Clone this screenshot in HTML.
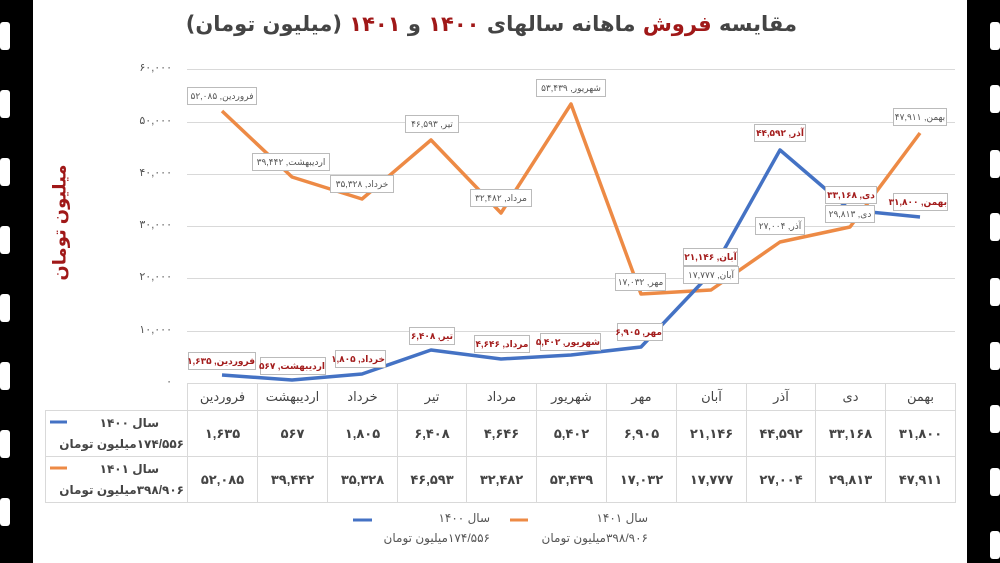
<!DOCTYPE html>
<html><head><meta charset="utf-8"><style>
*{margin:0;padding:0;box-sizing:border-box}
body{width:1000px;height:563px;position:relative;background:#fff;overflow:hidden;font-family:"Liberation Sans","DejaVu Sans",sans-serif}
.strip{position:absolute;top:0;width:33px;height:563px;background:#000}
.hole{position:absolute;width:10px;height:28px;background:#fff;border-radius:3px}
.t{position:absolute;white-space:nowrap}
.cb{position:absolute;background:#fff;border:1px solid #bbb;font-size:9px;color:#555;direction:rtl;text-align:center;line-height:16px;white-space:nowrap}
.cb.r{color:#a31c1c;font-weight:bold}
.yl{position:absolute;left:108px;width:64px;text-align:right;font-size:11px;color:#555}
table{position:absolute;left:45px;top:383px;border-collapse:collapse;direction:ltr}
td{border:1px solid #d9d9d9;text-align:center;font-size:13px;color:#444;font-weight:bold;padding:0}
</style></head><body>
<div class="strip" style="left:0"></div>
<div class="strip" style="left:967px"></div>
<div class="hole" style="left:0;top:22px"></div><div class="hole" style="left:0;top:90px"></div><div class="hole" style="left:0;top:158px"></div><div class="hole" style="left:0;top:226px"></div><div class="hole" style="left:0;top:294px"></div><div class="hole" style="left:0;top:362px"></div><div class="hole" style="left:0;top:430px"></div><div class="hole" style="left:0;top:498px"></div>
<div class="hole" style="left:990px;top:22px"></div><div class="hole" style="left:990px;top:85px"></div><div class="hole" style="left:990px;top:150px"></div><div class="hole" style="left:990px;top:213px"></div><div class="hole" style="left:990px;top:278px"></div><div class="hole" style="left:990px;top:342px"></div><div class="hole" style="left:990px;top:405px"></div><div class="hole" style="left:990px;top:468px"></div><div class="hole" style="left:990px;top:531px"></div>

<div class="t" style="left:197px;top:12px;width:600px;text-align:center;font-size:21px;font-weight:bold;color:#444;direction:rtl;font-family:'DejaVu Sans','Noto Sans CJK SC',sans-serif">مقایسه <span style="color:#a01818">فروش</span> ماهانه سالهای <span style="color:#a01818">۱۴۰۰</span> و <span style="color:#a01818">۱۴۰۱</span> (میلیون تومان)</div>

<div class="t" style="left:-10px;top:212px;width:140px;text-align:center;transform:rotate(-90deg);font-size:18px;font-weight:bold;color:#a01818;direction:rtl">میلیون تومان</div>

<div class="yl" style="top:61px">۶۰,۰۰۰</div>
<div class="yl" style="top:114px">۵۰,۰۰۰</div>
<div class="yl" style="top:166px">۴۰,۰۰۰</div>
<div class="yl" style="top:218px">۳۰,۰۰۰</div>
<div class="yl" style="top:270px">۲۰,۰۰۰</div>
<div class="yl" style="top:323px">۱۰,۰۰۰</div>
<div class="yl" style="top:375px">۰</div>

<svg style="position:absolute;left:0;top:0" width="1000" height="563">
<g stroke="#d9d9d9" stroke-width="1">
<line x1="187" x2="955" y1="69.5" y2="69.5"/><line x1="187" x2="955" y1="122.5" y2="122.5"/><line x1="187" x2="955" y1="174.5" y2="174.5"/><line x1="187" x2="955" y1="226.5" y2="226.5"/><line x1="187" x2="955" y1="278.5" y2="278.5"/><line x1="187" x2="955" y1="331.5" y2="331.5"/>
</g>
<polyline fill="none" stroke="#ed8a45" stroke-width="3.5" stroke-linejoin="round" points="222,111 292,177 362,199 431,140 501,213 571,104 641,294 711,290 780,242 850,227 920,133"/>
<polyline fill="none" stroke="#4472c4" stroke-width="3.5" stroke-linejoin="round" points="222,375 292,380 362,374 431,350 501,359 571,355 641,347 711,273 780,150 850,210 920,217"/>
<line x1="510" x2="528" y1="520" y2="520" stroke="#ed8a45" stroke-width="3"/>
<line x1="353" x2="372" y1="520" y2="520" stroke="#4472c4" stroke-width="3"/>
<line x1="50" x2="67" y1="422" y2="422" stroke="#4472c4" stroke-width="3"/>
<line x1="50" x2="67" y1="468" y2="468" stroke="#ed8a45" stroke-width="3"/>
</svg>

<div class="cb" style="left:187px;top:87px;width:70px">فروردین, ۵۲,۰۸۵</div>
<div class="cb" style="left:252px;top:153px;width:78px">اردیبهشت, ۳۹,۴۴۲</div>
<div class="cb" style="left:330px;top:175px;width:64px">خرداد, ۳۵,۳۲۸</div>
<div class="cb" style="left:405px;top:115px;width:54px">تیر, ۴۶,۵۹۳</div>
<div class="cb" style="left:470px;top:189px;width:62px">مرداد, ۳۲,۴۸۲</div>
<div class="cb" style="left:536px;top:79px;width:70px">شهریور, ۵۳,۴۳۹</div>
<div class="cb" style="left:615px;top:273px;width:51px">مهر, ۱۷,۰۳۲</div>
<div class="cb" style="left:683px;top:266px;width:56px">آبان, ۱۷,۷۷۷</div>
<div class="cb" style="left:755px;top:217px;width:50px">آذر, ۲۷,۰۰۴</div>
<div class="cb" style="left:825px;top:205px;width:50px">دی, ۲۹,۸۱۳</div>
<div class="cb" style="left:893px;top:108px;width:54px">بهمن, ۴۷,۹۱۱</div>

<div class="cb r" style="left:188px;top:352px;width:68px">فروردین, ۱,۶۳۵</div>
<div class="cb r" style="left:260px;top:357px;width:66px">اردیبهشت, ۵۶۷</div>
<div class="cb r" style="left:335px;top:350px;width:51px">خرداد, ۱,۸۰۵</div>
<div class="cb r" style="left:409px;top:327px;width:46px">تیر, ۶,۴۰۸</div>
<div class="cb r" style="left:474px;top:335px;width:56px">مرداد, ۴,۶۴۶</div>
<div class="cb r" style="left:540px;top:333px;width:61px">شهریور, ۵,۴۰۲</div>
<div class="cb r" style="left:617px;top:323px;width:46px">مهر, ۶,۹۰۵</div>
<div class="cb r" style="left:683px;top:248px;width:55px">آبان, ۲۱,۱۴۶</div>
<div class="cb r" style="left:754px;top:124px;width:52px">آذر, ۴۴,۵۹۲</div>
<div class="cb r" style="left:825px;top:186px;width:52px">دی, ۳۳,۱۶۸</div>
<div class="cb r" style="left:893px;top:193px;width:55px">بهمن, ۳۱,۸۰۰</div>

<table>
<tr style="height:27px"><td style="width:142px;border-top:none;border-left:none"></td><td style="width:70px;font-weight:normal">فروردین</td><td style="width:70px;font-weight:normal">اردیبهشت</td><td style="width:70px;font-weight:normal">خرداد</td><td style="width:69px;font-weight:normal">تیر</td><td style="width:70px;font-weight:normal">مرداد</td><td style="width:70px;font-weight:normal">شهریور</td><td style="width:70px;font-weight:normal">مهر</td><td style="width:70px;font-weight:normal">آبان</td><td style="width:69px;font-weight:normal">آذر</td><td style="width:70px;font-weight:normal">دی</td><td style="width:70px;font-weight:normal">بهمن</td></tr>
<tr style="height:46px"><td style="text-align:right;padding-right:3px;font-size:12px;line-height:21px;direction:rtl"><div style="padding-right:25px">سال ۱۴۰۰</div><div>۱۷۴/۵۵۶میلیون تومان</div></td><td>۱,۶۳۵</td><td>۵۶۷</td><td>۱,۸۰۵</td><td>۶,۴۰۸</td><td>۴,۶۴۶</td><td>۵,۴۰۲</td><td>۶,۹۰۵</td><td>۲۱,۱۴۶</td><td>۴۴,۵۹۲</td><td>۳۳,۱۶۸</td><td>۳۱,۸۰۰</td></tr>
<tr style="height:46px"><td style="text-align:right;padding-right:3px;font-size:12px;line-height:21px;direction:rtl"><div style="padding-right:25px">سال ۱۴۰۱</div><div>۳۹۸/۹۰۶میلیون تومان</div></td><td>۵۲,۰۸۵</td><td>۳۹,۴۴۲</td><td>۳۵,۳۲۸</td><td>۴۶,۵۹۳</td><td>۳۲,۴۸۲</td><td>۵۳,۴۳۹</td><td>۱۷,۰۳۲</td><td>۱۷,۷۷۷</td><td>۲۷,۰۰۴</td><td>۲۹,۸۱۳</td><td>۴۷,۹۱۱</td></tr>
</table>

<div class="t" style="left:380px;top:511px;width:110px;text-align:right;font-size:12px;color:#555;direction:rtl">سال ۱۴۰۰</div>
<div class="t" style="left:360px;top:531px;width:130px;text-align:right;font-size:12px;color:#555;direction:rtl">۱۷۴/۵۵۶میلیون تومان</div>
<div class="t" style="left:538px;top:511px;width:110px;text-align:right;font-size:12px;color:#555;direction:rtl">سال ۱۴۰۱</div>
<div class="t" style="left:518px;top:531px;width:130px;text-align:right;font-size:12px;color:#555;direction:rtl">۳۹۸/۹۰۶میلیون تومان</div>
</body></html>
